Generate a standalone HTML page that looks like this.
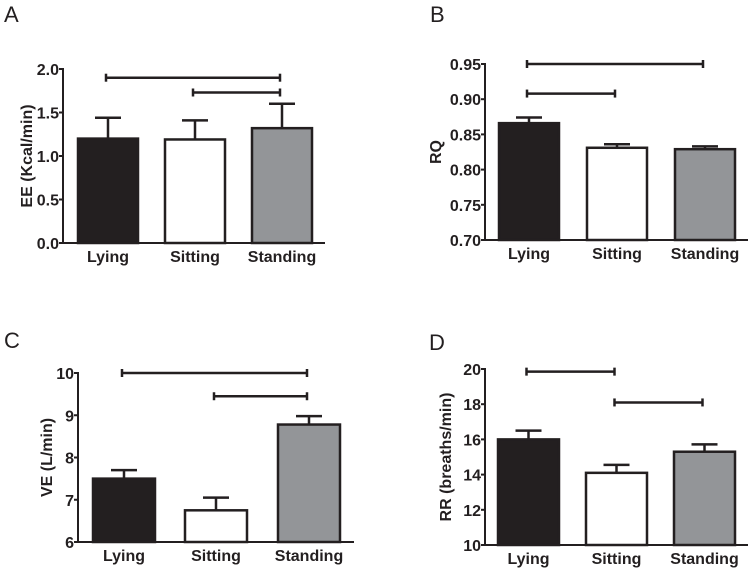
<!DOCTYPE html>
<html><head><meta charset="utf-8"><style>
html,body{margin:0;padding:0;background:#fff;}
svg{display:block;font-family:"Liberation Sans",Arial,sans-serif;}
</style></head><body>
<svg id="fig" width="753" height="568" viewBox="0 0 753 568"></svg>
<script>
const categories = ["Lying","Sitting","Standing"];
const eeMeans = [1.20, 1.19, 1.32];
const eeErrs  = [0.24, 0.22, 0.28];
const eeTicks = ["0.0","0.5","1.0","1.5","2.0"];
const rqMeans = [0.866, 0.831, 0.829];
const rqErrs  = [0.008, 0.005, 0.004];
const rqTicks = ["0.70","0.75","0.80","0.85","0.90","0.95"];
const veMeans = [7.50, 6.75, 8.78];
const veErrs  = [0.20, 0.30, 0.20];
const veTicks = ["6","7","8","9","10"];
const rrMeans = [16.0, 14.1, 15.3];
const rrErrs  = [0.5, 0.45, 0.42];
const rrTicks = ["10","12","14","16","18","20"];
const eeSig = [[0,2,1.9],[1,2,1.73]];
const rqSig = [[0,2,0.95],[0,1,0.908]];
const veSig = [[0,2,10.0],[1,2,9.45]];
const rrSig = [[0,1,19.85],[1,2,18.1]];
const fills = ["#231f20","#ffffff","#939598"];

const NS="http://www.w3.org/2000/svg";
const svg=document.getElementById('fig');
function mk(tag,attrs,parent){const e=document.createElementNS(NS,tag);for(const k in attrs)e.setAttribute(k,attrs[k]);(parent||svg).appendChild(e);return e;}

function panel(cfg){
  const g=mk('g',{});
  
  
  const ymin=+cfg.ticks[0], ymax=+cfg.ticks[cfg.ticks.length-1];
  const y=v=>cfg.bottom-(v-ymin)/(ymax-ymin)*(cfg.bottom-cfg.top);
  const lab=mk('text',{x:cfg.lx,y:cfg.ly,'font-size':22,fill:'#231f20'},g);lab.textContent=cfg.letter;
  
  
  const C='#231f20';
  cfg.means.forEach((m,i)=>{
    const x0=cfg.bx[i], cx=x0+cfg.bw/2;
    const et=y(m+cfg.errs[i]);
    const el=mk('line',{x1:cx,x2:cx,y1:y(m),y2:et,stroke:C,'stroke-width':2.5},g);
    
    
    const cap=mk('line',{x1:cx-13,x2:cx+13,y1:et,y2:et,stroke:C,'stroke-width':2.5},g);
    
    
    const r=mk('rect',{x:x0,y:y(m),width:cfg.bw,height:cfg.bottom-y(m),fill:fills[i],stroke:C,'stroke-width':2.5},g);
    
    
    const t=mk('text',{x:cx,y:cfg.bottom+19,'font-size':16,'font-weight':'bold','text-anchor':'middle',fill:C},g);
    t.textContent=categories[i];
    
    
  });
  const ax=mk('line',{x1:cfg.ax,x2:cfg.ax,y1:cfg.top-1,y2:cfg.bottom,stroke:C,'stroke-width':2},g);
  
  
  const xa=mk('line',{x1:cfg.ax,x2:cfg.xend,y1:cfg.bottom,y2:cfg.bottom,stroke:C,'stroke-width':2},g);
  
  
  cfg.ticks.forEach(tk=>{
    const yy=y(+tk);
    mk('line',{x1:cfg.ax-4,x2:cfg.ax,y1:yy,y2:yy,stroke:C,'stroke-width':2},g);
    const t=mk('text',{x:cfg.ax-4,y:yy+6,'font-size':16,'font-weight':'bold','text-anchor':'end',fill:C},g);
    t.textContent=tk;
    
    
  });
  const yt=mk('text',{x:0,y:0,'font-size':16,'font-weight':'bold','text-anchor':'middle',fill:C,transform:`translate(${cfg.ytx},${(cfg.top+cfg.bottom)/2}) rotate(-90)`},g);
  yt.textContent=cfg.ylabel;
  
  
  cfg.sig.forEach(s=>{
    const x1=cfg.bx[s[0]]+cfg.bw/2-2, x2=cfg.bx[s[1]]+cfg.bw/2-2, yy=y(s[2]);
    const l=mk('line',{x1:x1,x2:x2,y1:yy,y2:yy,stroke:C,'stroke-width':2.5},g);
    
    
    mk('line',{x1:x1,x2:x1,y1:yy-4,y2:yy+4,stroke:C,'stroke-width':2.5},g);
    mk('line',{x1:x2,x2:x2,y1:yy-4,y2:yy+4,stroke:C,'stroke-width':2.5},g);
  });
}
panel({name:'panel-a-ee',letter:'A',lx:4,ly:22,ax:63,top:69,bottom:243,xend:325,bx:[78,165,252],bw:60,means:eeMeans,errs:eeErrs,ticks:eeTicks,sig:eeSig,ylabel:'EE (Kcal/min)',ytx:32});
panel({name:'panel-b-rq',letter:'B',lx:430,ly:22,ax:485,top:64,bottom:240,xend:748,bx:[499,587,675],bw:60,means:rqMeans,errs:rqErrs,ticks:rqTicks,sig:rqSig,ylabel:'RQ',ytx:441});
panel({name:'panel-c-ve',letter:'C',lx:4,ly:348,ax:78,top:373,bottom:542,xend:354,bx:[93,185,278],bw:62,means:veMeans,errs:veErrs,ticks:veTicks,sig:veSig,ylabel:'VE (L/min)',ytx:52});
panel({name:'panel-d-rr',letter:'D',lx:429,ly:350,ax:485,top:369,bottom:545,xend:748,bx:[498,586,674],bw:61,means:rrMeans,errs:rrErrs,ticks:rrTicks,sig:rrSig,ylabel:'RR (breaths/min)',ytx:451});
</script>
</body></html>
